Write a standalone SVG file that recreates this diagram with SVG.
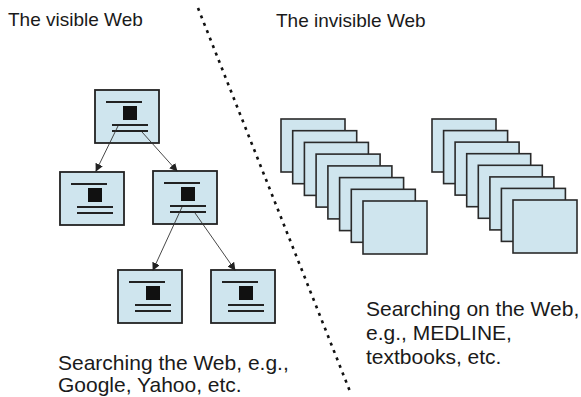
<svg xmlns="http://www.w3.org/2000/svg" width="581" height="397" viewBox="0 0 581 397">
  <style>
    .label { font-family: "Liberation Sans", Arial, sans-serif; fill: #1a1a1a; }
    .heading { font-size: 19px; }
    .caption { font-size: 21px; }
    .page { fill: #cfe5ee; stroke: #222; stroke-width: 1.8; }
    .rule { stroke: #222; stroke-width: 1.8; }
    .icon { fill: #111; }
    .sheet { fill: #cfe5ee; stroke: #2a2a2a; stroke-width: 1.6; }
    .link { stroke: #333; stroke-width: 0.9; fill: none; marker-end: url(#head); }
    .divider { stroke: #111; stroke-width: 2.6; stroke-dasharray: 3 5; fill: none; }
  </style>
  <defs>
    <marker id="head" viewBox="0 0 10 10" refX="9" refY="5" markerWidth="8" markerHeight="8" markerUnits="userSpaceOnUse" orient="auto">
      <path d="M0,0 L10,5 L0,10 z" fill="#222"/>
    </marker>
    <!-- a web page: frame, heading rule, picture block, two text rules -->
    <g id="webpage">
      <rect class="page" x="0" y="0" width="64" height="53"/>
      <line class="rule" x1="11" y1="12" x2="47" y2="12"/>
      <rect class="icon" x="28" y="16" width="14" height="14"/>
      <line class="rule" x1="17" y1="35" x2="53" y2="35"/>
      <line class="rule" x1="17" y1="41" x2="53" y2="41"/>
    </g>
  </defs>

  <rect width="581" height="397" fill="#fff"/>

  <!-- headings -->
  <text class="label heading" x="8" y="26">The visible Web</text>
  <text class="label heading" x="276" y="27">The invisible Web</text>

  <!-- boundary between the two webs -->
  <line class="divider" x1="198" y1="8" x2="351" y2="394"/>

  <!-- linked pages of the visible web -->
  <g id="page-root"><use href="#webpage" x="95" y="90"/></g>
  <g id="page-left"><use href="#webpage" x="60" y="172"/></g>
  <g id="page-right"><use href="#webpage" x="153" y="171"/></g>
  <g id="page-right-a"><use href="#webpage" x="118" y="270"/></g>
  <g id="page-right-b"><use href="#webpage" x="211" y="270"/></g>

  <g id="links">
    <line class="link" x1="118" y1="126" x2="96" y2="171"/>
    <line class="link" x1="142" y1="132" x2="177" y2="171"/>
    <line class="link" x1="182" y1="207" x2="153" y2="270"/>
    <line class="link" x1="195" y1="213" x2="235" y2="270"/>
  </g>

  <!-- stacked database records of the invisible web -->
  <g id="stack-left">
    <rect class="sheet" x="281" y="119" width="64" height="53"/>
    <rect class="sheet" x="292.7" y="130.7" width="64" height="53"/>
    <rect class="sheet" x="304.4" y="142.4" width="64" height="53"/>
    <rect class="sheet" x="316.1" y="154.1" width="64" height="53"/>
    <rect class="sheet" x="327.9" y="165.9" width="64" height="53"/>
    <rect class="sheet" x="339.6" y="177.6" width="64" height="53"/>
    <rect class="sheet" x="351.3" y="189.3" width="64" height="53"/>
    <rect class="sheet" x="363" y="201" width="64" height="53"/>
  </g>
  <g id="stack-right">
    <rect class="sheet" x="432" y="119" width="64" height="53"/>
    <rect class="sheet" x="443.6" y="130.6" width="64" height="53"/>
    <rect class="sheet" x="455.1" y="142.1" width="64" height="53"/>
    <rect class="sheet" x="466.7" y="153.7" width="64" height="53"/>
    <rect class="sheet" x="478.3" y="165.3" width="64" height="53"/>
    <rect class="sheet" x="489.9" y="176.9" width="64" height="53"/>
    <rect class="sheet" x="501.4" y="188.4" width="64" height="53"/>
    <rect class="sheet" x="513" y="200" width="64" height="53"/>
  </g>

  <!-- captions -->
  <text class="label caption" x="366" y="316">Searching on the Web,</text>
  <text class="label caption" x="366" y="340">e.g., MEDLINE,</text>
  <text class="label caption" x="366" y="364">textbooks, etc.</text>
  <text class="label caption" x="58" y="370">Searching the Web, e.g.,</text>
  <text class="label caption" x="58" y="392">Google, Yahoo, etc.</text>
</svg>
